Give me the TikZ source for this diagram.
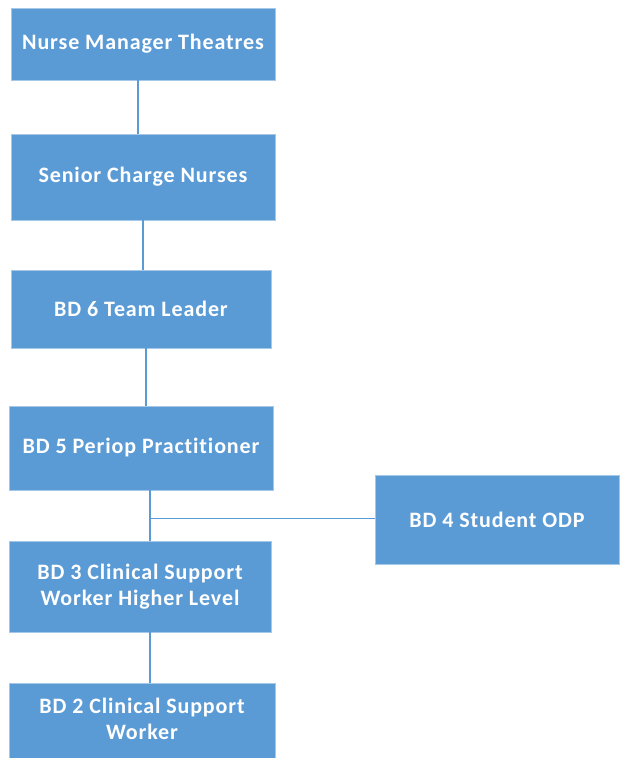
\documentclass[tikz,border=0pt]{standalone}
\usepackage{fontspec}
\setmainfont{Carlito}[LetterSpace=4, Ligatures=NoCommon]
\usepackage{tikz}
\usetikzlibrary{positioning}

\definecolor{orgblue}{HTML}{5B9BD5}

\tikzset{
    post/.style={rectangle, fill=orgblue, draw=orgblue!55!white, line width=0.6pt,
        text=white, font=\fontsize{22}{26}\selectfont\bfseries, align=center, inner sep=0pt},
    link/.style={draw=orgblue, line width=1.4pt}
}

\begin{document}
\begin{tikzpicture}[x=1pt, y=-1pt, node distance=133pt, on grid]
        \useasboundingbox (0,0) rectangle (619,758);
        % posts in the chain, top to bottom
        \node[post, minimum width=264pt, minimum height=72pt] (nm) at (143,44) {Nurse Manager Theatres};
        \node[post, minimum width=264pt, minimum height=86pt] (scn) [below=of nm] {Senior Charge Nurses};
        \node[post, minimum width=260pt, minimum height=78pt] (tl) [below=132pt of scn, xshift=-2pt] {BD 6 Team Leader};
        \node[post, minimum width=264pt, minimum height=84pt] (pp) [below=139pt of tl] {BD 5 Periop Practitioner};
        \node[post, minimum width=262pt, minimum height=91pt] (hl) [below=138.5pt of pp, xshift=-1pt] {BD 3 Clinical Support\\Worker Higher Level};
        % last box runs off the bottom edge
        \node[post, minimum width=266pt, minimum height=80pt, text depth=8pt] (csw) [below=136.5pt of hl, xshift=2pt] {BD 2 Clinical Support\\Worker};
        % student sits off to the right
        \node[post, minimum width=244pt, minimum height=89pt] (odp) at (497,519.5) {BD 4 Student ODP};

        % connectors
        \path[link]
        ([xshift=-5pt]nm.south) -- ([xshift=-5pt]nm.south |- scn.north)
        ([xshift=0pt]scn.south) -- ([xshift=0pt]scn.south |- tl.north)
        ([xshift=5pt]tl.south) -- ([xshift=5pt]tl.south |- pp.north)
        ([xshift=9pt]pp.south) -- ([xshift=9pt]pp.south |- hl.north)
        ([xshift=10pt]hl.south) -- ([xshift=10pt]hl.south |- csw.north);
        \coordinate (split) at ([xshift=9pt, yshift=-28pt]pp.south);
        \draw[link] (split) -- (split -| odp.west);
    \end{tikzpicture}
\end{document}
